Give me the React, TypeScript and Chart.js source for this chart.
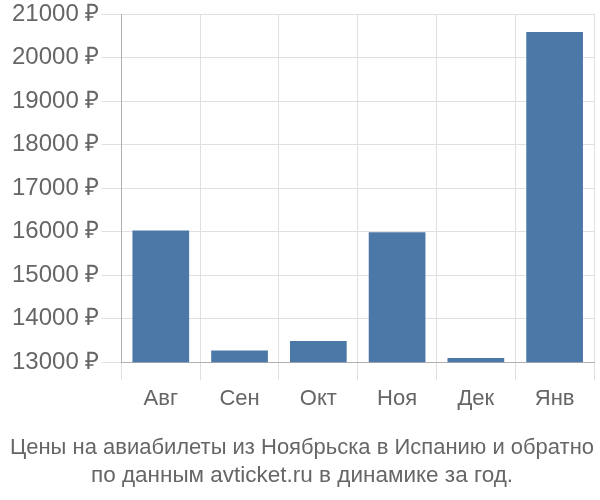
import React, { useEffect, useRef } from "react";
import { Chart, registerables } from "chart.js";

Chart.register(...registerables);

const categories = ["Авг", "Сен", "Окт", "Ноя", "Дек", "Янв"];
const prices = [16030, 13270, 13490, 15990, 13100, 20585];
const yMin = 13000;
const yMax = 21000;
const yStep = 1000;
const currency = " ₽";
const titleLines = [
  "Цены на авиабилеты из Ноябрьска в Испанию и обратно",
  "по данным avticket.ru в динамике за год.",
];

export default function App() {
  const ref = useRef<HTMLCanvasElement | null>(null);
  useEffect(() => {
    if (!ref.current) return;
    const font = "'Liberation Sans', Arial, sans-serif";
    const chart = new Chart(ref.current, {
      type: "bar",
      data: {
        labels: categories,
        datasets: [
          {
            data: prices,
            backgroundColor: "#4c78a8",
            borderWidth: 0,
          },
        ],
      },
      options: {
        animation: false,
        responsive: false,
        layout: { padding: { left: 10, right: 6, top: 2, bottom: 10 } },
        plugins: {
          legend: { display: false },
          tooltip: { enabled: false },
          title: {
            display: true,
            position: "bottom",
            text: titleLines,
            color: "#666666",
            font: { family: font, size: 22.5, weight: "normal", lineHeight: 1.25 },
            padding: { top: 17, bottom: 0 },
          },
        },
        scales: {
          x: {
            grid: { color: "#e0e0e0", tickLength: 18, offset: true },
            border: { color: "#b0b0b0" },
            ticks: { color: "#666666", font: { family: font, size: 22 }, padding: 5 },
          },
          y: {
            min: yMin,
            max: yMax,
            grid: { color: "#e0e0e0", tickLength: 20 },
            border: { color: "#b0b0b0" },
            ticks: {
              stepSize: yStep,
              color: "#666666",
              font: { family: font, size: 24, lineHeight: 1.0 },
              padding: 2,
              callback: (v: any) => `${v}${currency}`,
            },
          },
        },
      },
    });
    return () => chart.destroy();
  }, []);
  return (
    <div style={{ position: "fixed", left: 0, top: 0, width: 600, height: 500, background: "#fff" }}>
      <canvas ref={ref} width={600} height={500} />
    </div>
  );
}
